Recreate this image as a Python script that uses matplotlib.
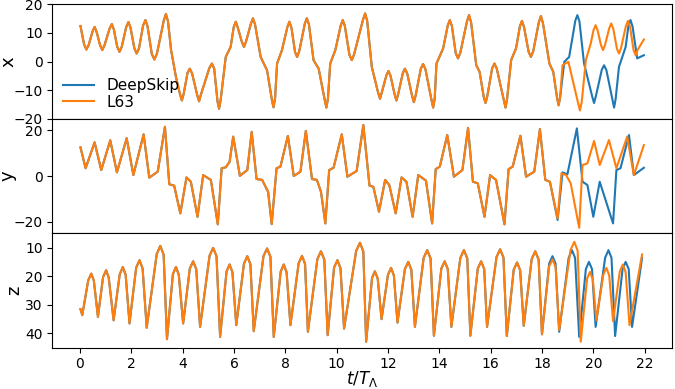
import numpy as np
import matplotlib
matplotlib.use('Agg')
from matplotlib import pyplot as plt

# L63 reference trajectory (t in units of T_Lambda)
t_x = [0.02, 0.16, 0.25, 0.34, 0.49, 0.57, 0.65, 0.78, 0.87, 0.96,
       1.15, 1.24, 1.32, 1.45, 1.54, 1.63, 1.80, 1.89, 1.97, 2.12,
       2.21, 2.30, 2.46, 2.55, 2.63, 2.80, 2.90, 3.00, 3.27, 3.35,
       3.43, 3.55, 3.74, 3.90, 3.97, 4.04, 4.19, 4.28, 4.37, 4.57,
       4.64, 4.71, 5.04, 5.14, 5.23, 5.36, 5.42, 5.48, 5.68, 5.87,
       5.99, 6.07, 6.15, 6.31, 6.39, 6.47, 6.66, 6.74, 6.82, 7.04,
       7.29, 7.48, 7.54, 7.60, 7.68, 7.87, 8.08, 8.16, 8.24, 8.38,
       8.46, 8.54, 8.76, 8.84, 8.92, 9.10, 9.30, 9.54, 9.60, 9.66,
       9.75, 9.95, 10.16, 10.24, 10.32, 10.50, 10.59, 10.68, 11.03, 11.11,
       11.19, 11.37, 11.62, 11.69, 11.76, 11.94, 12.02, 12.10, 12.26, 12.33,
       12.40, 12.58, 12.66, 12.75, 12.94, 13.01, 13.08, 13.28, 13.37, 13.46,
       13.70, 13.76, 13.82, 13.89, 14.15, 14.33, 14.41, 14.49, 14.64, 14.73,
       14.82, 15.08, 15.16, 15.24, 15.44, 15.57, 15.73, 15.80, 15.87, 16.06,
       16.15, 16.24, 16.52, 16.58, 16.64, 16.80, 16.99, 17.14, 17.22, 17.30,
       17.48, 17.57, 17.66, 17.88, 17.96, 18.04, 18.29, 18.44, 18.59, 18.65,
       18.71, 18.80, 19.03, 19.41, 19.48, 19.55, 19.71, 19.90, 20.01, 20.09,
       20.17, 20.30, 20.38, 20.46, 20.62, 20.70, 20.78, 20.92, 21.00, 21.08,
       21.27, 21.35, 21.43, 21.57, 21.65, 21.73, 21.97]
x_l63 = [12.4, 6.0, 4.2, 5.8, 10.5, 12.1, 10.3, 5.8, 4.0, 5.8,
         11.4, 13.1, 11.2, 5.2, 3.4, 5.2, 12.0, 13.8, 11.8, 4.6,
         2.8, 4.6, 12.6, 14.5, 12.4, 2.6, 0.7, 2.8, 14.5, 16.6,
         14.0, 4.0, -5.4, -11.5, -13.6, -11.3, -4.0, -2.5, -4.2, -11.8,
         -13.9, -11.6, -2.3, -0.7, -2.5, -14.0, -16.5, -13.5, 1.6, 5.1,
         12.0, 13.9, 11.8, 6.8, 5.1, 7.0, 13.2, 15.1, 13.0, 1.6,
         -3.1, -13.5, -16.0, -13.0, -0.7, 4.0, 12.0, 13.9, 11.8, 3.3,
         1.6, 3.5, 13.2, 15.1, 13.0, 0.5, -2.5, -13.6, -16.1, -13.1,
         -0.7, 4.0, 12.6, 14.5, 12.4, 2.3, 0.5, 2.5, 14.7, 16.8,
         14.2, -1.9, -11.0, -13.0, -10.8, -4.8, -3.3, -5.0, -11.5, -13.6,
         -11.3, -4.0, -2.5, -4.2, -12.0, -14.2, -11.8, -2.5, -0.9, -2.7,
         -13.6, -16.1, -13.1, -0.7, 4.6, 12.6, 14.5, 12.4, 2.9, 1.1,
         3.1, 14.1, 16.2, 13.6, -1.3, -3.6, -12.3, -14.5, -12.1, -2.3,
         -0.7, -2.5, -13.6, -16.1, -13.1, 0.5, 4.6, 12.3, 14.2, 12.1,
         3.4, 1.6, 3.6, 13.8, 15.9, 13.3, -0.7, -3.6, -12.8, -15.3,
         -12.3, -1.3, -0.1, -14.6, -17.1, -14.1, 0.5, 6.3, 11.0, 12.7,
         10.8, 5.7, 4.0, 5.9, 11.6, 13.3, 11.4, 4.5, 2.8, 4.7,
         12.4, 14.2, 12.2, 3.9, 2.2, 4.1, 7.7]

t_y = [0.02, 0.22, 0.57, 0.83, 1.18, 1.44, 1.82, 2.08, 2.48, 2.70,
       3.03, 3.31, 3.48, 3.67, 3.91, 4.15, 4.32, 4.58, 4.80, 5.10,
       5.37, 5.52, 5.68, 5.83, 5.97, 6.23, 6.52, 6.69, 6.88, 7.10,
       7.33, 7.47, 7.66, 7.81, 8.10, 8.33, 8.59, 8.80, 9.04, 9.23,
       9.39, 9.56, 9.71, 9.88, 10.20, 10.42, 10.78, 11.04, 11.28, 11.43,
       11.65, 11.89, 12.05, 12.30, 12.53, 12.72, 12.96, 13.18, 13.48, 13.72,
       13.86, 14.02, 14.31, 14.57, 14.90, 15.12, 15.31, 15.50, 15.76, 15.98,
       16.21, 16.54, 16.70, 16.86, 17.16, 17.38, 17.70, 17.92, 18.13, 18.31,
       18.61, 18.76, 18.94, 19.12, 19.45, 19.58, 19.77, 20.03, 20.25, 20.61,
       20.90, 21.32, 21.58, 21.97]
y_l63 = [12.5, 3.4, 14.7, 2.6, 15.6, 1.6, 16.5, 0.4, 18.2, -0.7,
         1.9, 21.5, -3.6, -4.2, -16.3, -0.6, -2.5, -17.8, 0.4, -1.7,
         -21.1, 3.4, 3.8, 6.2, 17.2, 0.1, 2.6, 19.3, -1.3, -1.7,
         -6.9, -21.0, 3.4, 4.1, 17.5, 0.0, 1.9, 19.7, -1.3, -1.7,
         -6.9, -20.7, 2.6, 3.6, 18.2, -0.3, 2.2, 22.3, -4.2, -4.7,
         -15.6, -1.7, -3.9, -16.3, -0.6, -2.5, -17.8, 0.4, -2.0, -20.7,
         3.0, 4.1, 17.9, -0.3, 2.6, 21.0, -2.5, -3.2, -17.8, 0.4,
         -1.7, -21.1, 3.0, 4.1, 17.6, -0.3, 1.9, 20.5, -1.7, -2.5,
         -18.5, 1.2, 0.4, -3.2, -22.6, 4.8, 5.5, 15.3, 4.8, 15.7,
         3.4, 17.2, 0.4, 13.5]

t_z = [0.02, 0.09, 0.32, 0.44, 0.54, 0.70, 0.90, 1.02, 1.12, 1.31,
       1.55, 1.67, 1.78, 1.93, 2.19, 2.32, 2.44, 2.60, 2.99, 3.13,
       3.26, 3.39, 3.62, 3.74, 3.85, 4.02, 4.28, 4.41, 4.53, 4.68,
       5.05, 5.19, 5.32, 5.46, 5.71, 5.83, 5.94, 6.09, 6.39, 6.52,
       6.64, 6.77, 7.15, 7.29, 7.42, 7.55, 7.82, 7.94, 8.05, 8.20,
       8.52, 8.65, 8.77, 8.88, 9.25, 9.39, 9.52, 9.65, 9.90, 10.03,
       10.15, 10.29, 10.76, 10.91, 11.04, 11.15, 11.38, 11.49, 11.60, 11.75,
       12.00, 12.12, 12.23, 12.37, 12.66, 12.79, 12.91, 13.05, 13.39, 13.53,
       13.66, 13.79, 14.08, 14.21, 14.33, 14.47, 14.82, 14.96, 15.09, 15.21,
       15.50, 15.63, 15.75, 15.86, 16.23, 16.37, 16.50, 16.63, 16.90, 17.03,
       17.15, 17.29, 17.60, 17.74, 17.87, 18.00, 18.28, 18.41, 18.53, 18.67,
       19.11, 19.26, 19.39, 19.51, 19.76, 19.87, 19.98, 20.12, 20.39, 20.51,
       20.62, 20.77, 21.03, 21.15, 21.26, 21.41, 21.90]
z_l63 = [31.5, 33.6, 21.5, 19.1, 21.5, 34.2, 20.3, 17.9, 20.5, 35.4,
         19.3, 16.8, 19.5, 36.5, 17.0, 14.4, 17.3, 38.0, 12.3, 9.4,
         12.5, 42.0, 19.3, 16.8, 19.5, 36.5, 17.3, 14.8, 17.5, 37.7,
         12.8, 10.1, 13.0, 41.2, 18.4, 15.9, 18.6, 37.1, 15.6, 13.0,
         15.8, 39.2, 13.0, 10.3, 13.2, 41.2, 18.4, 15.9, 18.6, 37.1,
         15.5, 12.9, 15.7, 39.4, 14.0, 11.3, 14.2, 40.6, 17.0, 14.4,
         17.2, 38.3, 11.2, 8.3, 11.4, 42.9, 20.6, 18.3, 20.8, 35.0,
         19.5, 17.1, 19.7, 36.2, 17.5, 15.0, 17.7, 37.7, 13.6, 10.9,
         13.8, 40.8, 17.3, 14.8, 17.5, 37.7, 13.6, 10.9, 13.8, 40.8,
         17.3, 14.8, 17.5, 37.7, 13.3, 10.6, 13.5, 40.9, 17.7, 15.2,
         17.9, 37.3, 14.0, 11.3, 14.2, 40.3, 16.6, 14.1, 16.8, 38.8,
         10.9, 8.0, 11.1, 42.9, 20.8, 18.5, 21.0, 35.4, 19.5, 17.1,
         19.7, 35.7, 18.4, 15.9, 18.6, 37.1, 12.4]

# DeepSkip follows L63 until the split time, then its own points
split_x, split_y, split_z = 18.5, 18.4, 18.1
t_x_ds = [18.59, 18.65, 18.71, 18.87, 19.06, 19.30, 19.38, 19.46, 19.64,
          19.96, 20.03, 20.10, 20.33, 20.42, 20.51, 20.75, 20.81, 20.87,
          21.00, 21.26, 21.37, 21.45, 21.53, 21.71, 21.97]
x_ds = [-12.8, -15.3, -12.3, -0.1, 1.6, 14.3, 16.2, 14.0, -0.7,
        -12.3, -14.5, -12.1, -2.9, -1.3, -3.0, -13.6, -16.1, -13.1,
        -1.9, 5.1, 12.6, 14.5, 12.2, 1.1, 2.2]
t_y_ds = [18.61, 18.80, 18.99, 19.36, 19.58, 19.77, 20.00, 20.25, 20.77,
          20.90, 21.06, 21.39, 21.58, 21.97]
y_ds = [-19.2, 1.6, 0.7, 20.8, -2.5, -3.9, -17.8, -2.5, -20.7,
        2.6, 3.4, 17.9, 0.4, 3.6]
t_z_ds = [18.28, 18.41, 18.53, 18.67, 19.04, 19.17, 19.29, 19.45, 19.71,
          19.83, 19.95, 20.09, 20.46, 20.59, 20.71, 20.85, 21.14, 21.26,
          21.38, 21.51, 21.90]
z_ds = [15.6, 13.0, 15.6, 39.4, 13.6, 10.9, 13.6, 41.2, 17.5,
        15.0, 17.5, 37.7, 13.6, 10.9, 13.6, 40.9, 17.5, 15.0,
        17.5, 37.7, 13.6]


def deepskip(t, v, split, t_tail, v_tail):
    t = np.array(t)
    keep = t < split
    return (np.concatenate([t[keep], t_tail]),
            np.concatenate([np.array(v)[keep], v_tail]))


panels = [
    ('x', t_x, x_l63, split_x, t_x_ds, x_ds, (-20, 20), [-20, -10, 0, 10, 20], -0.057),
    ('y', t_y, y_l63, split_y, t_y_ds, y_ds, (-25, 25), [-20, 0, 20], -0.057),
    ('z', t_z, z_l63, split_z, t_z_ds, z_ds, (45, 5), [10, 20, 30, 40], -0.047),
]

fig, axs = plt.subplots(3, 1, sharex=True, figsize=(6.75, 3.89), dpi=100)
fig.subplots_adjust(left=0.0775, right=0.9956, top=0.989, bottom=0.106, hspace=0)

for ax, (name, t, v, split, tt, vt, lim, ticks, lx) in zip(axs, panels):
    td, vd = deepskip(t, v, split, tt, vt)
    ax.plot(td, vd, color='C0', lw=1.5, label='DeepSkip')
    ax.plot(t, v, color='C1', lw=1.5, label='L63')
    ax.set_ylim(lim)
    ax.set_yticks(ticks)
    ax.set_ylabel(name, fontsize=13)
    ax.yaxis.set_label_coords(lx, 0.5)

axs[0].legend(loc='lower left', bbox_to_anchor=(0.003, 0.0), frameon=False,
              fontsize=11, borderaxespad=0.2, labelspacing=0.1)
axs[2].set_xticks(np.arange(0, 23, 2))
axs[2].set_xlabel(r'$t/T_\Lambda$', fontsize=12, labelpad=-1.5)

plt.savefig('out.png')
